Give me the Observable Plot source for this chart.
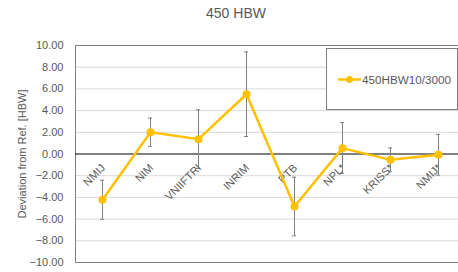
<!DOCTYPE html>
<html><head><meta charset="utf-8">
<script src="https://cdn.jsdelivr.net/npm/d3@7"></script>
<script src="https://cdn.jsdelivr.net/npm/@observablehq/plot@0.6"></script>
<style>
body{margin:0;background:#fff;font-family:"Liberation Sans",Arial,sans-serif;}
#wrap{position:relative;width:458px;height:272px;overflow:hidden;background:#fff;}
#title{position:absolute;left:0;top:5px;width:472px;text-align:center;font-size:14px;line-height:16px;color:#595959;}
#chart{position:absolute;left:0;top:30px;}
#legend{position:absolute;left:326px;top:48px;width:132px;height:62px;border:1px solid #7f7f7f;background:#fff;box-sizing:border-box;}
#legend svg{position:absolute;left:0;top:0;}
</style></head><body>
<div id="wrap">
  <div id="title"></div>
  <div id="chart"></div>
  <div id="legend"></div>
</div>
<script>
const chartTitle = "450 HBW";
const yLabel = "Deviation from Ref. [HBW]";
const seriesName = "450HBW10/3000";
const labs = ["NMIJ", "NIM", "VNIIFTRI", "INRIM", "PTB", "NPL*", "KRISS*", "NMIJ*"];
const values = [-4.22, 2.01, 1.37, 5.51, -4.84, 0.54, -0.54, -0.07];
const errors = [1.8, 1.3, 2.7, 3.9, 2.7, 2.35, 1.1, 1.88];
const yTicks = [-10, -8, -6, -4, -2, 0, 2, 4, 6, 8, 10];

const gold = "#FFC000";
const txt = "#595959";

document.getElementById("title").textContent = chartTitle;

const data = labs.map((lab, i) => ({lab, v: values[i], lo: values[i] - errors[i], hi: values[i] + errors[i]}));

const chart = Plot.plot({
  width: 458,
  height: 242,
  marginTop: 15,
  marginBottom: 10,
  marginLeft: 75,
  marginRight: -7,
  style: {fontFamily: '"Liberation Sans", Arial, sans-serif', fontSize: "11px", color: txt, background: "transparent", overflow: "visible"},
  x: {type: "band", domain: labs, padding: 0},
  y: {domain: [-10, 10]},
  marks: [
    Plot.ruleY(yTicks.filter(d => d !== 0), {stroke: "#d9d9d9", strokeWidth: 1, strokeOpacity: 1}),
    Plot.frame({stroke: "#7f7f7f", strokeWidth: 1}),
    Plot.ruleY([0], {stroke: "#000", strokeWidth: 1}),
    Plot.axisY({ticks: yTicks, tickFormat: d3.format(".2f"), tickSize: 0, tickPadding: 12, fontSize: 11, label: yLabel, labelAnchor: "center", labelOffset: 57, labelArrow: "none"}),
    Plot.axisX({ticks: [], label: null}),
    Plot.ruleX(data, {x: "lab", y1: "lo", y2: "hi", stroke: "#808080", strokeWidth: 1}),
    Plot.tickY(data, {x: "lab", y: "lo", stroke: "#808080", strokeWidth: 1, insetLeft: 21.9, insetRight: 21.9}),
    Plot.tickY(data, {x: "lab", y: "hi", stroke: "#808080", strokeWidth: 1, insetLeft: 21.9, insetRight: 21.9}),
    Plot.text(data, {x: "lab", y: () => 0, text: "lab", rotate: -45, textAnchor: "end", dx: 1, dy: 12, fill: txt, fontSize: 11}),
    Plot.line(data, {x: "lab", y: "v", stroke: gold, strokeWidth: 2.5}),
    Plot.dot(data, {x: "lab", y: "v", r: 4, fill: gold, stroke: "none"})
  ]
});
document.getElementById("chart").appendChild(chart);

// legend
const lg = d3.select("#legend").append("svg").attr("width", 132).attr("height", 62);
lg.append("line").attr("x1", 11).attr("x2", 34).attr("y1", 30.5).attr("y2", 30.5).attr("stroke", gold).attr("stroke-width", 2.5);
lg.append("circle").attr("cx", 22.5).attr("cy", 30.5).attr("r", 3.5).attr("fill", gold);
lg.append("text").attr("x", 35).attr("y", 34.5).attr("font-size", "11.7px").attr("fill", txt)
  .attr("font-family", '"Liberation Sans", Arial, sans-serif').text(seriesName);
</script>
</body></html>
